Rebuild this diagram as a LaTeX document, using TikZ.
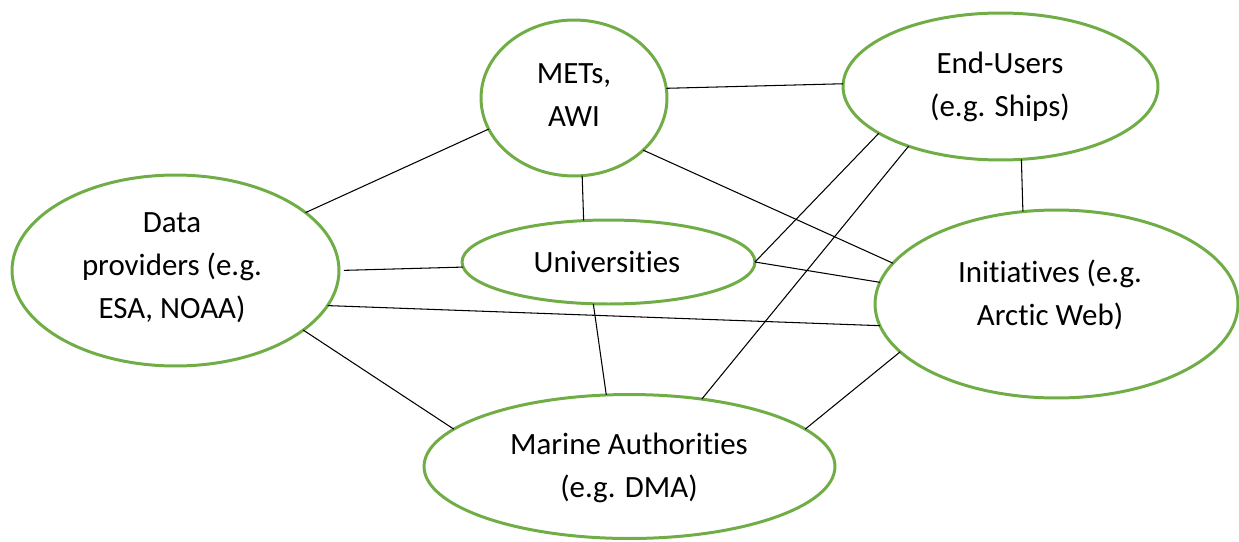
\documentclass[tikz,border=0pt]{standalone}
\usepackage{fontspec}
\setmainfont{Carlito}[Ligatures=NoCommon]
\usetikzlibrary{shapes.geometric}
\definecolor{ogreen}{HTML}{70AD47}
\begin{document}
\begin{tikzpicture}[x=0.02cm,y=-0.02cm,
  bub/.style={ellipse, draw=ogreen, line width=1.7pt, inner sep=0pt, outer sep=0pt},
  lbl/.style={align=center, font=\fontsize{17.6}{24.4}\selectfont, inner sep=0pt, text=black},
  link/.style={draw=black, line width=0.6pt}]
\useasboundingbox (0,0) rectangle (1239,541);
% ellipses
\node[bub, minimum width=3.72cm, minimum height=3.12cm] (mets) at (574,98) {};
\node[bub, minimum width=6.30cm, minimum height=2.94cm] (end) at (1000.5,86.5) {};
\node[bub, minimum width=6.54cm, minimum height=3.82cm] (data) at (175.5,270.5) {};
\node[bub, minimum width=5.86cm, minimum height=1.68cm] (uni) at (608.5,262) {};
\node[bub, minimum width=7.26cm, minimum height=3.76cm] (init) at (1056.5,304) {};
\node[bub, minimum width=8.22cm, minimum height=2.88cm] (mar) at (629.5,466.5) {};
% labels
\node[lbl] (metsT) at (574,95) {METs,\\AWI};
\node[lbl] (endT) at (1000,87) {End-Users\\(e.g. Ships)};
\node[lbl] (dataT) at (172,268) {Data\\providers (e.g.\\ESA, NOAA)};
\node[lbl] (uniT) at (607,262) {Universities};
\node[lbl] (initT) at (1050,295) {Initiatives (e.g.\\Arctic Web)};
\node[lbl] (marT) at (629,468) {Marine Authorities\\(e.g. DMA)};
% connectors
\draw[link] (mets.200.9) -- (data.24.4);
\draw[link] (mets.6.2) -- (end.179.1);
\draw[link] (mets.276.1) -- (uni.121.1);
\draw[link] (mets.323.8) -- (init.166.6);
\draw[link] (end.286.3) -- (init.110.8);
\draw[link] (end.201.8) -- (uni.0);
\draw[link] (end.213.2) -- (mar.43.7);
\draw[link, shorten <=2.8pt] (data.0) -- (uni.182.8);
\draw[link] (uni.0) -- (init.173.7);
\draw[link] (data.347.3) -- (init.187.5);
\draw[link] (data.335.2) -- (mar.168.1);
\draw[link] (uni.250.7) -- (mar.108.2);
\draw[link] (init.197.3) -- (mar.12.3);
\end{tikzpicture}
\end{document}
